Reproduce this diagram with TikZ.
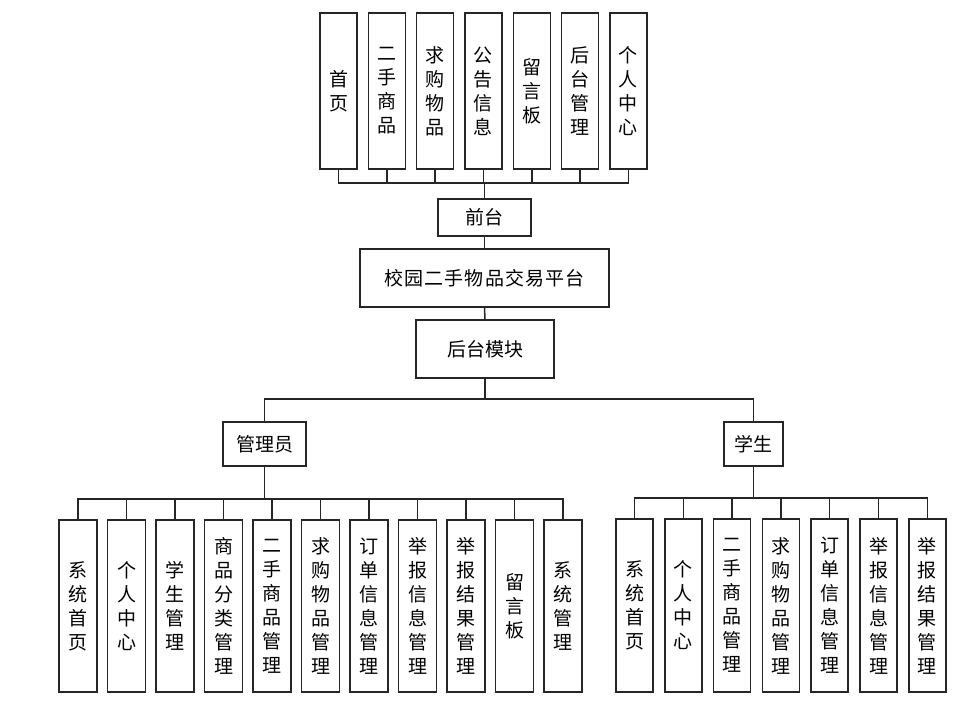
\documentclass[tikz,border=0pt]{standalone}
\usepackage{fontspec}
\newfontfamily\cjk{Noto Sans CJK SC}
\begin{document}
\begin{tikzpicture}[x=1pt,y=-1pt,
  every node/.style={font=\cjk\fontsize{19}{24}\selectfont},
  box/.style={draw=black!85, line width=1.5pt, fill=white, inner sep=0pt, align=center},
  topbox/.style={box, minimum width=37pt, minimum height=156pt},
  admbox/.style={box, minimum width=38pt, minimum height=172pt},
  stubox/.style={box, minimum width=37pt, minimum height=173pt},
  conn/.style={draw=black!85, line width=1.5pt}]
\useasboundingbox (0,0) rectangle (958,710);
% top row
\foreach \i/\t in {0/{首\\页},1/{二\\手\\商\\品},2/{求\\购\\物\\品},3/{公\\告\\信\\息},4/{留\\言\\板},5/{后\\台\\管\\理},6/{个\\人\\中\\心}}{
  \node[topbox] (t\i) at ({338.5+48.33*\i},91) {\t};
}
\coordinate (fb) at (484.5,183);
\node[box, minimum width=93pt, minimum height=37pt] (f) at (484.5,217.5) {前台};
\node[box, minimum width=249pt, minimum height=58pt] (p) at (484.5,278) {\addfontfeature{LetterSpace=6}校园二手物品交易平台};
\node[box, minimum width=138pt, minimum height=58pt] (h) at (485,349) {后台模块};
\coordinate (hb) at (485,399);
\node[box, minimum width=83pt, minimum height=44pt] (a) at (264.5,444) {管理员};
\node[box, minimum width=59pt, minimum height=44pt] (s) at (753.5,444) {学生};
\coordinate (ab) at (264.5,499);
\coordinate (sb) at (753.5,498);
% admin children
\foreach \i/\t in {0/{系\\统\\首\\页},1/{个\\人\\中\\心},2/{学\\生\\管\\理},3/{商\\品\\分\\类\\管\\理},4/{二\\手\\商\\品\\管\\理},5/{求\\购\\物\\品\\管\\理},6/{订\\单\\信\\息\\管\\理},7/{举\\报\\信\\息\\管\\理},8/{举\\报\\结\\果\\管\\理},9/{留\\言\\板},10/{系\\统\\管\\理}}{
  \node[admbox] (m\i) at ({78+48.5*\i},606) {\t};
}
% student children
\foreach \i/\t in {0/{系\\统\\首\\页},1/{个\\人\\中\\心},2/{二\\手\\商\\品\\管\\理},3/{求\\购\\物\\品\\管\\理},4/{订\\单\\信\\息\\管\\理},5/{举\\报\\信\\息\\管\\理},6/{举\\报\\结\\果\\管\\理}}{
  \node[stubox] (u\i) at ({634.5+48.8*\i},605.5) {\t};
}
% connectors
\foreach \i in {0,...,6}{ \draw[conn] (t\i.south) |- (fb); }
\draw[conn] (fb) -- (f.north);
\draw[conn] (f.south) -- (p.north);
\draw[conn] (p.south) -- (h.north);
\draw[conn] (h.south) -- (hb);
\draw[conn] (hb) -| (a.north);
\draw[conn] (hb) -| (s.north);
\draw[conn] (a.south) -- (ab);
\foreach \i in {0,...,10}{ \draw[conn] (ab) -| (m\i.north); }
\draw[conn] (s.south) -- (sb);
\foreach \i in {0,...,6}{ \draw[conn] (sb) -| (u\i.north); }
\end{tikzpicture}
\end{document}
